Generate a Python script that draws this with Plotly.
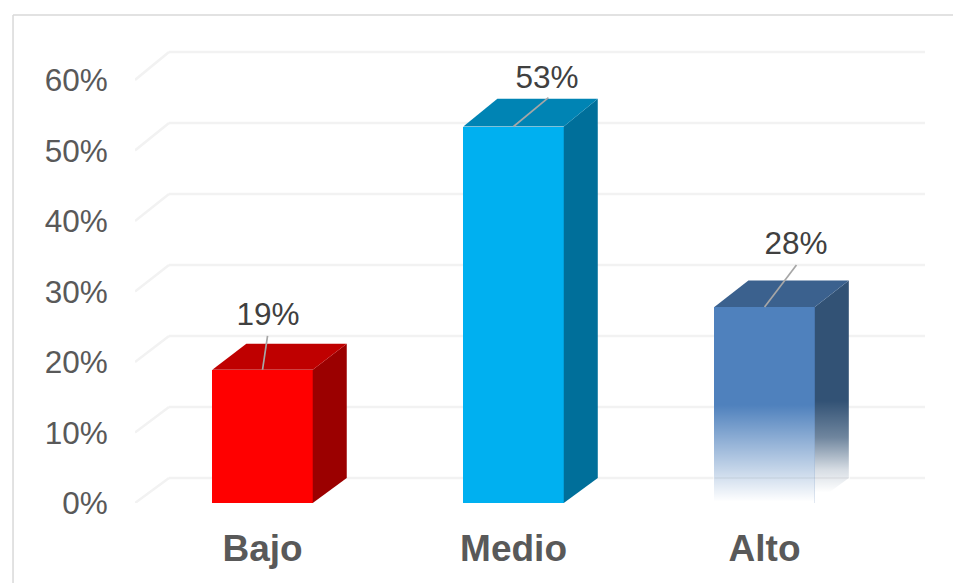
import plotly.graph_objects as go

categories = ["Bajo", "Medio", "Alto"]
values = [18.9, 53.4, 27.8]
label_texts = ["19%", "53%", "28%"]
tick_values = [0, 10, 20, 30, 40, 50, 60]
tick_labels = ["0%", "10%", "20%", "30%", "40%", "50%", "60%"]

front_colors = ["#FF0000", "#00B0F0", "#4F81BD"]
top_colors = ["#BF0000", "#0084B4", "#3B618E"]
side_colors = ["#9B0000", "#006F9A", "#325275"]
label_dx = [0.022, 0.133, 0.125]
label_dy = [7.47, 6.57, 8.67]
leader_dx = [0.02, 0.139, 0.127]
leader_dy = [4.8, 4.1, 5.96]

BAR_W = 0.4
DEPTH_X = 0.1355
DEPTH_Y = 3.55
SCALE_BACK = 1.007
X0 = -0.508
FADE_TOP = 13.9
GRID = "#F2F2F2"


def back(y):
    """Height on the back wall that matches height y on the front plane."""
    return y * SCALE_BACK + DEPTH_Y


fig = go.Figure()

fig.add_trace(go.Bar(x=list(range(3)), y=values, width=BAR_W,
                     marker=dict(color=front_colors, line=dict(width=0)),
                     showlegend=False, hoverinfo="x+y"))

for i, v in enumerate(values):
    r = i + BAR_W / 2
    l = i - BAR_W / 2
    fig.add_trace(go.Scatter(
        x=[r, r + DEPTH_X, r + DEPTH_X, r, r], y=[0, back(0), back(v), v, 0],
        mode="lines", line=dict(width=0), fill="toself", fillcolor=side_colors[i],
        showlegend=False, hoverinfo="skip"))
    fig.add_trace(go.Scatter(
        x=[l, l + DEPTH_X, r + DEPTH_X, r, l], y=[v, back(v), back(v), v, v],
        mode="lines", line=dict(width=0), fill="toself", fillcolor=top_colors[i],
        showlegend=False, hoverinfo="skip"))

# white fade over the foot of the "Alto" column
a = 2
l, r = a - BAR_W / 2, a + BAR_W / 2
PAD = 0.004
fade = [[0, "rgba(255,255,255,1)"], [1, "rgba(255,255,255,0)"]]
side_fade = [[0, "rgba(255,255,255,1)"], [0.25, "rgba(255,255,255,0.8)"],
             [0.6, "rgba(255,255,255,0.3)"], [1, "rgba(255,255,255,0)"]]
fig.add_trace(go.Scatter(
    x=[l - PAD, r, r, l - PAD, l - PAD], y=[-0.2, -0.2, FADE_TOP, FADE_TOP, -0.2],
    mode="lines", line=dict(width=0), fill="toself",
    fillgradient=dict(type="vertical", colorscale=fade, start=0.2, stop=FADE_TOP),
    showlegend=False, hoverinfo="skip"))
fig.add_trace(go.Scatter(
    x=[r, r + DEPTH_X + PAD, r + DEPTH_X + PAD, r, r],
    y=[-0.3, DEPTH_Y - 0.2, FADE_TOP + 0.6, FADE_TOP + 0.6, -0.3],
    mode="lines", line=dict(width=0), fill="toself",
    fillgradient=dict(type="vertical", colorscale=side_fade, start=1.5, stop=FADE_TOP + 0.6),
    showlegend=False, hoverinfo="skip"))
# back gridline seen through the fade
fig.add_trace(go.Scatter(
    x=[l, r + DEPTH_X], y=[back(0), back(0)], mode="lines",
    line=dict(color="rgba(0,0,0,0.04)", width=2), showlegend=False, hoverinfo="skip"))

# leader lines and data labels
for i, v in enumerate(values):
    fig.add_trace(go.Scatter(
        x=[i, i + leader_dx[i]], y=[v, v + leader_dy[i]], mode="lines",
        line=dict(color="#A6A6A6", width=1.7), showlegend=False, hoverinfo="skip"))
fig.add_trace(go.Scatter(
    x=[i + d for i, d in enumerate(label_dx)],
    y=[v + d for v, d in zip(values, label_dy)],
    text=label_texts, mode="text", textposition="middle center",
    textfont=dict(family="Liberation Sans, Arial", size=31.5, color="#404040"),
    showlegend=False, hoverinfo="skip"))

shapes = []
for t in tick_values:
    shapes.append(dict(type="line", layer="below", xref="x", yref="y",
                       x0=X0, y0=t, x1=X0 + DEPTH_X, y1=back(t),
                       line=dict(color=GRID, width=2.5)))
    shapes.append(dict(type="line", layer="below", xref="x", yref="y",
                       x0=X0 + DEPTH_X, y0=back(t), x1=2.639, y1=back(t),
                       line=dict(color=GRID, width=2.5)))

# outer frame (open at the right and bottom edges of the picture)
shapes.append(dict(type="line", xref="paper", yref="paper", layer="below",
                   x0=-0.1544, y0=-0.18, x1=-0.1544, y1=1.054,
                   line=dict(color="#D9D9D9", width=1.5)))
shapes.append(dict(type="line", xref="paper", yref="paper", layer="below",
                   x0=-0.1544, y0=1.054, x1=1.05, y1=1.054,
                   line=dict(color="#D9D9D9", width=1.5)))

# the page adds an 8px body margin, so the figure is 8px smaller each way
fig.update_layout(
    width=953, height=575, autosize=False,
    margin=dict(l=127, r=36, t=32, b=80, autoexpand=False),
    paper_bgcolor="white", plot_bgcolor="white",
    showlegend=False, shapes=shapes, bargap=0,
    xaxis=dict(range=[X0, 2.639], tickmode="array", tickvals=list(range(3)),
               ticktext=categories, showgrid=False, zeroline=False, showline=False,
               ticks="outside", ticklen=13, tickcolor="rgba(0,0,0,0)",
               tickfont=dict(family="Liberation Sans, Arial", size=37, color="#595959",
                             weight="bold")),
    yaxis=dict(range=[0, 65.67], tickmode="array", tickvals=tick_values,
               ticktext=tick_labels, showgrid=False, zeroline=False, showline=False,
               ticks="outside", ticklen=20, tickcolor="rgba(0,0,0,0)",
               tickfont=dict(family="Liberation Sans, Arial", size=31.5, color="#595959")),
)

fig.write_html("out.html")
